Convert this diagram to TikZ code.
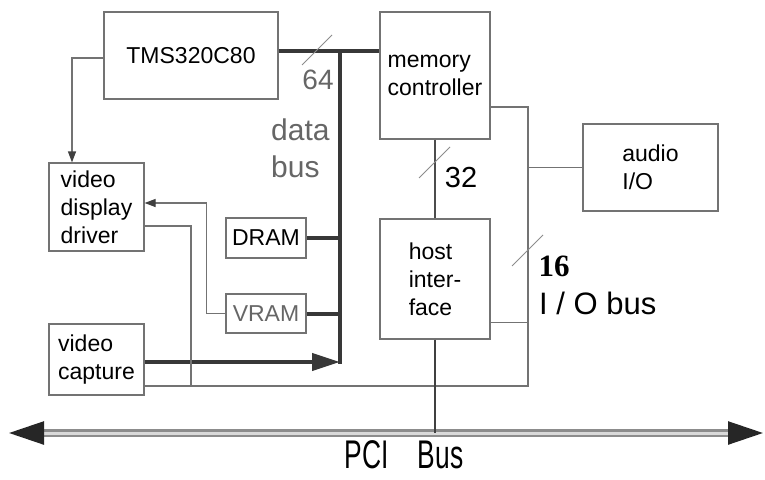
\documentclass[tikz,border=0pt]{standalone}
\usepackage{fontspec}
\setmainfont{Liberation Sans}
\newfontfamily\serifbf{Liberation Serif}
\usetikzlibrary{arrows.meta,calc}

\begin{document}
\begin{tikzpicture}[x=1pt,y=-1pt,
  blk/.style={draw=black!55,line width=1.2pt,fill=white,inner sep=0pt,align=left,
              font=\fontsize{23}{28}\selectfont},
  lbl/.style={inner sep=0pt,align=left},
  bus/.style={line width=4pt,draw=black!78},
  ln/.style={line width=1.2pt,draw=black!55},
  tip/.style={-{Triangle[length=11pt,width=8pt,color=black!75]}},
  slash/.style={line width=1pt,draw=black!45}
]
\useasboundingbox (0,0) rectangle (765,479);

\node[blk,minimum width=174pt,minimum height=87pt] (tms) at (191,55.5) {TMS320C80};
\node[blk,minimum width=110pt,minimum height=127pt] (mem) at (435,75.5) {memory\\controller};
\node[blk,minimum width=95pt,minimum height=88pt] (drv) at (96.5,207) {video\\display\\driver};
\node[blk,minimum width=80pt,minimum height=40pt] (dram) at (266,238) {DRAM};
\node[blk,minimum width=80pt,minimum height=39pt,text=black!60] (vram) at (266,313.5) {VRAM};
\node[blk,minimum width=95pt,minimum height=71pt] (cap) at (96.5,359.5) {video\\capture};
\node[blk,minimum width=110pt,minimum height=120pt] (host) at (435,279) {host\\inter-\\face};
\node[blk,minimum width=135pt,minimum height=87pt] (aud) at (650.5,167.5) {audio\\I/O};

\coordinate (top) at (340,51);
\coordinate (bot) at (340,362);
\coordinate (ioT) at (528,107);
\coordinate (ioB) at (528,386);
\coordinate (drvB) at (191,386);
\coordinate (pciL) at (9,433);
\coordinate (pciR) at (763,433);
\coordinate (hostR) at ($(host.south east)+(0,-17)$);

% data bus
\draw[bus] (tms.east |- top) -- (mem.west |- top);
\draw[bus,line cap=rect] (top) -- (bot);
\draw[bus] (dram.east) -- (dram.east -| top);
\draw[bus] (vram.east) -- (vram.east -| top);
\draw[bus,-{Triangle[length=28pt,width=17pt]}] (cap.east |- bot) -- (bot);

% video paths
\draw[ln,tip] ($(tms.west)+(0,2.5)$) -| ($(drv.north)+(-24.5,0)$);
\draw[ln,tip] (vram.west) -- ++(-19,0) |- ($(drv.east)+(0,-4)$);
\draw[ln] ($(drv.east)+(0,19)$) -| (drvB);

% I/O bus
\draw[ln] (cap.east |- ioB) -- (ioB) -- (ioT) -- (mem.east |- ioT);
\draw[ln] (aud.west) -- (aud.west -| ioB);
\draw[ln] (hostR) -- (hostR -| ioB);

% PCI bus
\draw[line width=2.5pt,draw=black!45,double=black!15,double distance=3pt,
  {Triangle[length=35pt,width=23pt,color=black!85]}-{Triangle[length=35pt,width=23pt,color=black!85]}]
  (pciL) -- (pciR);
\draw[line width=2.4pt,draw=black!70] (mem.south) -- (host.north);
\draw[line width=1.5pt,draw=black!75] (host.south) -- (host.south |- pciL);

% width marks
\draw[slash] (302,65) -- (332,35);
\draw[slash] (419,178) -- (450,147);
\draw[slash] (512,266) -- (543,235);

\node[lbl,text=black!60,font=\fontsize{28}{30}\selectfont] (w64) at (318,80) {64};
\node[lbl,text=black!60,font=\fontsize{30}{37}\selectfont,anchor=west] (dbus) at (271,148) {data\\bus};
\node[lbl,font=\fontsize{29}{30}\selectfont] (w32) at (461,178) {32};
\node[lbl,font=\serifbf\bfseries\fontsize{31}{32}\selectfont] (w16) at (554,266) {16};
\node[lbl,font=\fontsize{31}{32}\selectfont,anchor=west] (iobus) at (539,303) {I / O bus};
\node[lbl,font=\fontsize{40}{40}\selectfont] (pci) at (404,455) {\scalebox{0.66}[1]{PCI\hspace{1.1em}Bus}};
\end{tikzpicture}
\end{document}
